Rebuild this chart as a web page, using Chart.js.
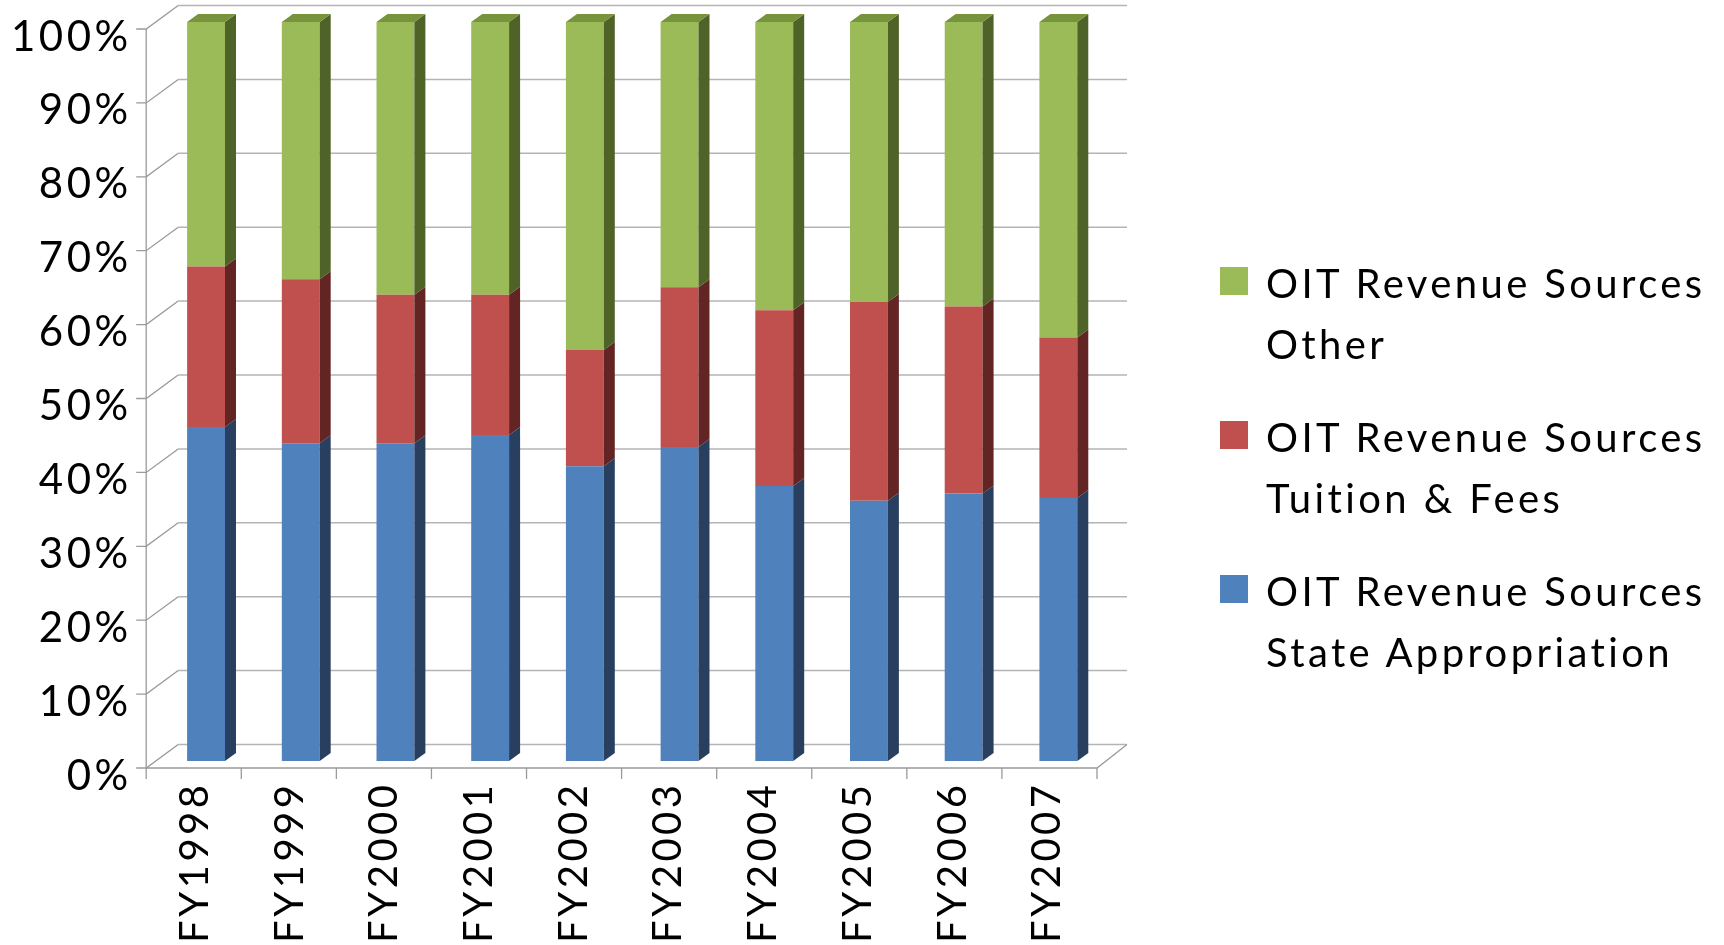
<!DOCTYPE html>
<html>
<head>
<meta charset="utf-8">
<script src="https://cdn.jsdelivr.net/npm/chart.js@4.4.1/dist/chart.umd.min.js"></script>
<style>
	html, body { margin: 0; padding: 0; background: #fff; }
	#wrap { position: relative; width: 1724px; height: 945px; }
	#legend { position: absolute; left: 0; top: 0; font-family: Lato, sans-serif; font-size: 40px; letter-spacing: 3.4px; color: #000; }
	.item { position: absolute; left: 1220px; line-height: 61px; white-space: nowrap; }
	.item .box { position: absolute; left: 0; top: 14px; width: 28px; height: 28px; }
	.item .txt { position: absolute; left: 46px; top: 0; }
</style>
</head>
<body>
<div id="wrap">
	<canvas id="chart"></canvas>
	<div id="legend"></div>
</div>
<script>
const categories = ['FY1998','FY1999','FY2000','FY2001','FY2002','FY2003','FY2004','FY2005','FY2006','FY2007'];
const stateAppropriation = [45.2, 43.0, 43.0, 44.1, 39.9, 42.5, 37.2, 35.2, 36.2, 35.6];
const tuitionFees = [21.7, 22.2, 20.1, 19.0, 15.7, 21.6, 23.8, 26.9, 25.3, 21.7];
const otherSources = [33.1, 34.8, 36.9, 36.9, 44.4, 35.9, 39.0, 37.9, 38.5, 42.7];
const seriesNames = [
	['OIT Revenue Sources', 'State Appropriation'],
	['OIT Revenue Sources', 'Tuition & Fees'],
	['OIT Revenue Sources', 'Other']
];

const frontColors = ['#4F81BD', '#C0504D', '#9BBB59'];
const sideColors = ['#283F5F', '#632523', '#4F6228'];
const topColor = '#77933C';

// 3d look: front axis sits in front of the bars, back wall behind them
const depth = { barDx: 11, barDy: -8, frontDxL: -12.5, frontDxR: -8.7, frontDy: 7, backDy: -16.5, backDx: 32, backDxR: 30 };

const threeD = {
	id: 'threeD',
	beforeDraw(chart) {
		chart.ctx.letterSpacing = '3.5px';
	},
	beforeDatasetsDraw(chart) {
		const ctx = chart.ctx;
		const x = chart.scales.x, y = chart.scales.y;
		const fl = x.left + depth.frontDxL, fr = x.right + depth.frontDxR;
		const bl = fl + depth.backDx, br = fr + depth.backDxR;
		ctx.save();
		ctx.lineWidth = 1.5;
		// back wall
		ctx.strokeStyle = '#B4B4B4';
		for (let v = 0; v <= 100; v += 10) {
			const yb = y.getPixelForValue(v) + depth.backDy;
			ctx.beginPath();
			ctx.moveTo(bl, yb);
			ctx.lineTo(br, yb);
			ctx.stroke();
		}
		// connectors and front axes
		ctx.strokeStyle = '#9A9A9A';
		ctx.lineWidth = 1.3;
		for (let v = 0; v <= 100; v += 10) {
			const yf = y.getPixelForValue(v) + depth.frontDy;
			const yb = y.getPixelForValue(v) + depth.backDy;
			ctx.beginPath();
			ctx.moveTo(fl - 10, yf);
			ctx.lineTo(fl, yf);
			ctx.lineTo(bl, yb);
			ctx.stroke();
		}
		const y0 = y.getPixelForValue(0) + depth.frontDy;
		const y100 = y.getPixelForValue(100) + depth.frontDy;
		ctx.beginPath();
		ctx.moveTo(fl, y100);
		ctx.lineTo(fl, y0);
		ctx.lineTo(fr, y0);
		ctx.lineTo(br, y.getPixelForValue(0) + depth.backDy);
		ctx.stroke();
		const step = (fr - fl) / categories.length;
		for (let i = 0; i <= categories.length; i++) {
			ctx.beginPath();
			ctx.moveTo(fl + i * step, y0);
			ctx.lineTo(fl + i * step, y0 + 11);
			ctx.stroke();
		}
		ctx.restore();
	},
	afterDatasetsDraw(chart) {
		const ctx = chart.ctx;
		ctx.save();
		const last = chart.data.datasets.length - 1;
		chart.data.datasets.forEach(function(ds, di) {
			const meta = chart.getDatasetMeta(di);
			meta.data.forEach(function(bar) {
				const p = bar.getProps(['x', 'y', 'base', 'width'], true);
				const left = p.x - p.width / 2, right = p.x + p.width / 2;
				const top = Math.min(p.y, p.base), bottom = Math.max(p.y, p.base);
				ctx.fillStyle = sideColors[di];
				ctx.beginPath();
				ctx.moveTo(right, top);
				ctx.lineTo(right + depth.barDx, top + depth.barDy);
				ctx.lineTo(right + depth.barDx, bottom + depth.barDy);
				ctx.lineTo(right, bottom);
				ctx.closePath();
				ctx.fill();
				if (di === last) {
					ctx.fillStyle = topColor;
					ctx.beginPath();
					ctx.moveTo(left, top);
					ctx.lineTo(left + depth.barDx, top + depth.barDy);
					ctx.lineTo(right + depth.barDx, top + depth.barDy);
					ctx.lineTo(right, top);
					ctx.closePath();
					ctx.fill();
				}
			});
		});
		ctx.restore();
	}
};

const datasets = [stateAppropriation, tuitionFees, otherSources].map(function(vals, i) {
	return {
		label: seriesNames[i].join(' '),
		data: vals,
		backgroundColor: frontColors[i],
		borderWidth: 0,
		categoryPercentage: 0.4,
		barPercentage: 1.0
	};
});

new Chart(document.getElementById('chart'), {
	type: 'bar',
	data: { labels: categories, datasets: datasets },
	plugins: [threeD],
	options: {
		responsive: true,
		maintainAspectRatio: false,
		animation: false,
		layout: { padding: { top: 22, right: 618.3, left: 0, bottom: 0 } },
		plugins: { legend: { display: false }, tooltip: { enabled: false } },
		scales: {
			x: {
				stacked: true,
				grid: { display: false },
				border: { display: false },
				ticks: {
					color: '#000',
					font: { family: 'Lato', size: 40, lineHeight: 1.0 },
					minRotation: 90,
					maxRotation: 90,
					autoSkip: false,
					padding: 12.5,
					labelOffset: -11
				},
				afterFit(scale) {
					scale.height = 184;
					scale.paddingLeft = 0;
					scale.paddingRight = 0;
				}
			},
			y: {
				stacked: true,
				min: 0,
				max: 100,
				grid: { display: false },
				border: { display: false },
				ticks: {
					color: '#000',
					font: { family: 'Lato', size: 42, lineHeight: 1.0 },
					stepSize: 10,
					padding: 19,
					labelOffset: 15,
					callback: function(v) { return v + '%'; }
				},
				afterFit(scale) {
					scale.width = 158.7;
					scale.paddingTop = 0;
					scale.paddingBottom = 0;
				}
			}
		}
	}
});

// legend, top item is the last series
const legendTops = [253, 407, 561];
const legend = document.getElementById('legend');
for (let k = 0; k < 3; k++) {
	const si = 2 - k;
	const item = document.createElement('div');
	item.className = 'item';
	item.style.top = legendTops[k] + 'px';
	item.innerHTML = '<div class="box" style="background:' + frontColors[si] + '"></div>' +
		'<div class="txt">' + seriesNames[si][0] + '<br>' + seriesNames[si][1].replace('&', '&amp;') + '</div>';
	legend.appendChild(item);
}
</script>
</body>
</html>
